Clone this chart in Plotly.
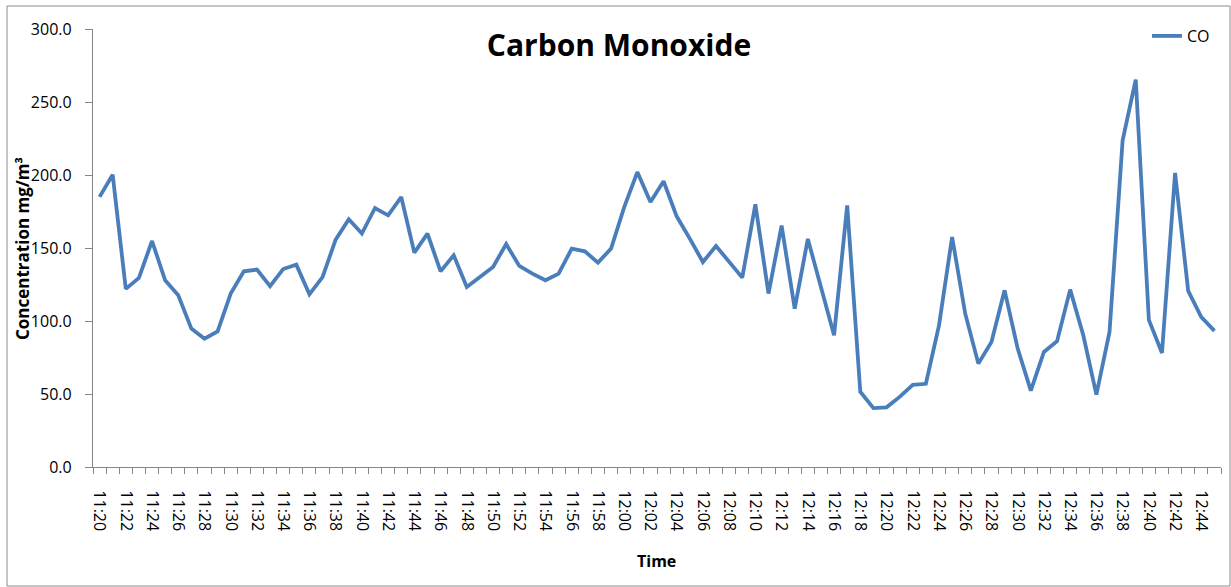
import plotly.graph_objects as go

# minute-by-minute readings, 11:20 .. 12:45
times = [f"{h:02d}:{m:02d}" for h in (11, 12) for m in range(60)
         if (h == 11 and m >= 20) or (h == 12 and m <= 45)]

co_values = [
    185.0, 200.2, 122.0, 129.5, 154.8, 127.9, 117.6, 94.8, 87.9, 92.9,
    118.8, 134.0, 135.2, 123.8, 135.6, 138.6, 118.3, 130.1, 155.7, 169.7,
    159.9, 177.4, 172.4, 184.9, 146.8, 159.9, 134.0, 145.0, 123.3, 130.4,
    137.0, 152.7, 137.7, 132.4, 127.9, 132.4, 149.6, 147.7, 140.0, 149.6,
    178.0, 202.0, 181.5, 195.7, 171.7, 156.4, 140.4, 151.4, 140.2, 129.7,
    179.9, 118.8, 165.3, 108.5, 156.2, 124.0, 90.2, 179.2, 51.5, 40.3,
    40.9, 48.0, 56.3, 57.0, 97.0, 157.5, 105.0, 70.8, 85.6, 121.0,
    81.1, 52.3, 78.8, 86.1, 121.5, 90.2, 49.6, 92.5, 223.8, 265.3,
    100.8, 78.1, 201.4, 120.6, 102.7, 93.2,
]

series_name = "CO"
chart_title = "Carbon Monoxide"
y_title = "Concentration mg/m³"
x_title = "Time"

x_dates = ["2000-01-01 " + t for t in times]

LINE_COLOR = "#4A7EBB"
AXIS_COLOR = "#868686"
FONT = "Open Sans"

fig = go.Figure()
fig.add_trace(go.Scatter(
    x=x_dates, y=co_values, mode="lines", name=series_name,
    line=dict(color=LINE_COLOR, width=3.8),
))

W, H = 1231, 587
L, R, T, B = 93, 10, 29, 120
pw, ph = W - L - R, H - T - B


def px_to_paper_x(px):
    return (px - L) / pw


def px_to_paper_y(py):
    return (H - B - py) / ph


fig.update_layout(
    width=W, height=H,
    margin=dict(l=L, r=R, t=T, b=B),
    paper_bgcolor="white", plot_bgcolor="white",
    font=dict(family=FONT, color="black", size=16),
    title=dict(text=f"<b>{chart_title}</b>", x=619 / W, xanchor="center",
               y=1 - 45 / H, yanchor="middle", xref="container", yref="container",
               font=dict(size=30, family=FONT, color="black")),
    showlegend=True,
    legend=dict(x=px_to_paper_x(1147), y=px_to_paper_y(36), xanchor="left",
                yanchor="middle", bgcolor="rgba(0,0,0,0)",
                font=dict(size=16, family=FONT, color="black"),
                itemwidth=30),
)

fig.update_xaxes(
    type="date",
    range=["2000-01-01 11:19:30", "2000-01-01 12:45:30"],
    tick0="2000-01-01 11:20", dtick=120000, tickformat="%H:%M",
    tickangle=90,
    ticks="outside", ticklen=19, tickcolor="rgba(0,0,0,0)",
    minor=dict(ticks="outside", tick0="2000-01-01 11:19:30", dtick=60000,
               ticklen=6, tickcolor=AXIS_COLOR, showgrid=False),
    showline=True, linecolor=AXIS_COLOR, linewidth=1.3,
    showgrid=False, zeroline=False,
    tickfont=dict(size=16, family=FONT, color="black"),
)

fig.update_yaxes(
    range=[0, 300], dtick=50, tickformat=".1f",
    ticks="outside", ticklen=7, tickcolor=AXIS_COLOR,
    ticklabelstandoff=10,
    showline=True, linecolor=AXIS_COLOR, linewidth=1.3,
    showgrid=False, zeroline=False,
    tickfont=dict(size=16, family=FONT, color="black"),
)

# y axis title (overlapping tick labels, as in the original)
fig.add_annotation(
    text=f"<b>{y_title}</b>", textangle=-90,
    xref="paper", yref="paper",
    x=px_to_paper_x(22), y=px_to_paper_y(249),
    xanchor="center", yanchor="middle", showarrow=False,
    font=dict(size=17, family=FONT, color="black"),
)
fig.add_annotation(
    text=f"<b>{x_title}</b>",
    xref="paper", yref="paper",
    x=px_to_paper_x(656), y=px_to_paper_y(561),
    xanchor="center", yanchor="middle", showarrow=False,
    font=dict(size=16, family=FONT, color="black"),
)

# chart-area border
fig.add_shape(
    type="rect", xref="paper", yref="paper",
    x0=px_to_paper_x(7), x1=px_to_paper_x(1230),
    y0=px_to_paper_y(586), y1=px_to_paper_y(6),
    line=dict(color="#8C8C8C", width=1), fillcolor="rgba(0,0,0,0)",
    layer="below",
)

fig.write_html("out.html",
               config={"displayModeBar": False},
               post_script="document.body.style.margin='0';document.body.style.overflow='hidden';")
